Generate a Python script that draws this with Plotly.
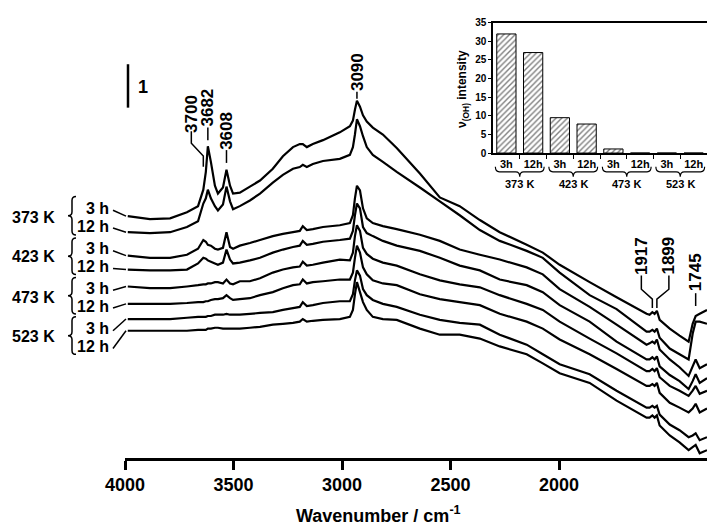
import plotly.graph_objects as go

# ---------------- data ----------------
wavenumber = [4000, 3912, 3832, 3765, 3721, 3700, 3690, 3682, 3670, 3654,
              3642, 3622, 3608, 3594, 3582, 3555, 3515, 3475, 3424, 3384,
              3344, 3317, 3305, 3289, 3265, 3225, 3158, 3118, 3106, 3098,
              3090, 3078, 3066, 3051, 3027, 2987, 2932, 2840, 2761, 2682,
              2602, 2523, 2416, 2352, 2285, 2166, 2059, 1940, 1928, 1917,
              1908, 1899, 1888, 1848, 1809, 1773, 1757, 1745, 1729, 1700]

abs_373K_3h = [5.57, 5.50, 5.52, 5.66, 5.80, 6.18, 6.59, 7.18, 6.82, 6.27,
               6.09, 6.23, 6.64, 6.27, 6.09, 6.11, 6.25, 6.39, 6.66, 6.95,
               7.16, 7.23, 7.23, 7.16, 7.23, 7.32, 7.50, 7.64, 7.77, 8.02,
               8.23, 8.09, 7.89, 7.75, 7.61, 7.45, 7.14, 6.55, 6.00, 5.80,
               5.48, 5.20, 4.91, 4.73, 4.45, 4.05, 3.70, 3.32, 3.30, 3.36,
               3.32, 3.39, 3.18, 2.98, 2.82, 2.68, 3.09, 3.27, 3.32, 3.41]
abs_373K_12h = [5.20, 5.18, 5.20, 5.32, 5.45, 5.86, 5.98, 6.18, 5.98, 5.80,
                5.70, 5.84, 6.25, 5.91, 5.73, 5.80, 5.93, 6.09, 6.34, 6.52,
                6.66, 6.70, 6.75, 6.70, 6.77, 6.84, 6.89, 6.98, 7.16, 7.45,
                7.80, 7.64, 7.41, 7.16, 6.98, 6.82, 6.59, 6.23, 5.91, 5.59,
                5.25, 5.00, 4.77, 4.61, 4.27, 3.75, 3.43, 2.91, 2.91, 2.95,
                2.91, 2.98, 2.77, 2.52, 2.39, 2.27, 2.86, 3.14, 3.14, 3.09]
abs_423K_3h = [4.66, 4.61, 4.61, 4.68, 4.82, 5.02, 4.98, 4.91, 4.89, 4.82,
               4.80, 4.84, 5.20, 4.86, 4.82, 4.89, 4.95, 5.02, 5.11, 5.16,
               5.20, 5.23, 5.34, 5.25, 5.27, 5.32, 5.36, 5.41, 5.59, 5.98,
               6.27, 6.16, 5.75, 5.52, 5.41, 5.34, 5.27, 5.14, 5.00, 4.80,
               4.68, 4.57, 4.39, 4.23, 3.89, 3.48, 3.07, 2.61, 2.64, 2.68,
               2.64, 2.73, 2.50, 2.27, 2.09, 1.89, 2.11, 2.27, 2.07, 2.16]
abs_423K_12h = [4.34, 4.32, 4.32, 4.34, 4.48, 4.61, 4.59, 4.55, 4.52, 4.48,
                4.45, 4.50, 4.80, 4.57, 4.48, 4.50, 4.55, 4.61, 4.73, 4.80,
                4.86, 4.89, 5.00, 4.91, 4.93, 4.98, 5.02, 5.05, 5.23, 5.59,
                5.86, 5.75, 5.32, 5.18, 5.11, 5.00, 4.89, 4.77, 4.61, 4.43,
                4.32, 4.11, 3.98, 3.82, 3.52, 3.14, 2.68, 2.27, 2.27, 2.32,
                2.27, 2.34, 2.11, 1.91, 1.77, 1.59, 1.77, 1.93, 1.73, 1.84]
abs_473K_3h = [3.95, 3.91, 3.91, 3.95, 3.98, 4.00, 4.00, 4.02, 4.02, 4.05,
               4.05, 4.02, 4.11, 4.02, 4.00, 4.07, 4.07, 4.14, 4.27, 4.34,
               4.39, 4.41, 4.52, 4.43, 4.45, 4.50, 4.57, 4.55, 4.73, 5.11,
               5.36, 5.23, 4.84, 4.70, 4.59, 4.50, 4.43, 4.23, 4.09, 4.00,
               3.93, 3.75, 3.55, 3.41, 3.14, 2.75, 2.41, 2.00, 2.00, 2.05,
               2.00, 2.07, 1.86, 1.66, 1.55, 1.43, 1.55, 1.66, 1.48, 1.55]
abs_473K_12h = [3.55, 3.55, 3.55, 3.57, 3.59, 3.59, 3.61, 3.61, 3.64, 3.66,
                3.66, 3.68, 3.75, 3.68, 3.64, 3.66, 3.68, 3.75, 3.82, 3.91,
                3.98, 4.00, 4.11, 4.02, 4.05, 4.07, 4.11, 4.11, 4.27, 4.61,
                4.89, 4.73, 4.39, 4.23, 4.09, 4.02, 3.98, 3.77, 3.66, 3.59,
                3.52, 3.32, 3.14, 2.98, 2.73, 2.39, 2.05, 1.66, 1.66, 1.70,
                1.66, 1.73, 1.50, 1.27, 1.16, 1.05, 1.14, 1.25, 1.05, 1.14]
abs_523K_3h = [3.20, 3.20, 3.20, 3.23, 3.25, 3.25, 3.25, 3.27, 3.27, 3.30,
               3.30, 3.30, 3.32, 3.30, 3.30, 3.30, 3.32, 3.34, 3.36, 3.41,
               3.45, 3.48, 3.59, 3.50, 3.52, 3.57, 3.61, 3.61, 3.77, 4.09,
               4.32, 4.20, 3.89, 3.75, 3.64, 3.55, 3.48, 3.30, 3.18, 3.11,
               3.07, 2.84, 2.61, 2.39, 2.16, 1.93, 1.55, 1.16, 1.16, 1.20,
               1.16, 1.20, 1.00, 0.77, 0.64, 0.48, 0.52, 0.57, 0.41, 0.48]
abs_523K_12h = [2.93, 2.93, 2.93, 2.93, 2.95, 2.95, 2.95, 2.98, 2.98, 3.00,
                3.00, 2.98, 2.98, 2.98, 2.98, 2.98, 3.00, 3.02, 3.07, 3.09,
                3.11, 3.14, 3.20, 3.14, 3.16, 3.18, 3.20, 3.25, 3.41, 3.77,
                4.05, 3.82, 3.59, 3.41, 3.25, 3.20, 3.18, 2.98, 2.84, 2.84,
                2.75, 2.57, 2.39, 2.18, 1.95, 1.73, 1.32, 0.93, 0.93, 0.98,
                0.93, 0.98, 0.75, 0.52, 0.36, 0.18, 0.25, 0.30, 0.11, 0.18]

temperatures = ["373 K", "423 K", "473 K", "523 K"]
times = ["3 h", "12 h"]
spectra = [abs_373K_3h, abs_373K_12h, abs_423K_3h, abs_423K_12h,
           abs_473K_3h, abs_473K_12h, abs_523K_3h, abs_523K_12h]

inset_times = ["3h", "12h", "3h", "12h", "3h", "12h", "3h", "12h"]
oh_intensity = [32, 27, 9.5, 7.8, 1.1, 0, 0, 0]

axis_tick_labels = [4000, 3500, 3000, 2500, 2000]
peak_labels = [3700, 3682, 3608, 3090, 1917, 1899, 1745]
scale_bar_abs = 1

# ---------------- geometry / style ----------------
W, H = 707, 525
PL, PR, PB = 125, 707, 458          # main plot area in px
PX_PER_ABS = 44
X_DATA_RANGE = [4011, 1700]
X_TICK_RANGE = [4000, 1318]
FONT = "Liberation Sans, Arial, sans-serif"


def bold(size):
    return dict(family=FONT, size=size, color="black", weight="bold")


def fx(px):
    return (px - PL) / (PR - PL)


def fy(py):
    return (PB - py) / PB


def P(px, py):
    return f"{fx(px):.5f},{fy(py):.5f}"


def wn2px(w):
    return PL + (w - X_DATA_RANGE[0]) * (PR - PL) / (X_DATA_RANGE[1] - X_DATA_RANGE[0])


fig = go.Figure()
labels = [(t, h) for t in temperatures for h in times]
for (t, h), vals in zip(labels, spectra):
    fig.add_trace(go.Scatter(
        x=wavenumber, y=vals, mode="lines", name=f"{t} {h}",
        line=dict(color="black", width=2.2, simplify=False),
        xaxis="x", yaxis="y", showlegend=False, hoverinfo="skip"))

# empty trace so that the labelled wavenumber axis is drawn
fig.add_trace(go.Scatter(x=[], y=[], xaxis="x2", yaxis="y", mode="lines",
                         showlegend=False, hoverinfo="skip"))

fig.add_trace(go.Bar(
    x=list(range(len(oh_intensity))), y=oh_intensity, width=0.72,
    xaxis="x3", yaxis="y2", showlegend=False,
    marker=dict(color="white", line=dict(color="black", width=1),
                pattern=dict(shape="/", fgcolor="black", bgcolor="white",
                             size=4, solidity=0.35))))

IX0, IX1, IY0, IY1 = 493, 707, 17, 149

fig.update_layout(
    width=W, height=H,
    margin=dict(l=PL, r=W - PR, t=0, b=H - PB, pad=0),
    paper_bgcolor="white", plot_bgcolor="rgba(0,0,0,0)", showlegend=False,
    xaxis=dict(visible=False, range=X_DATA_RANGE, domain=[0, 1]),
    xaxis2=dict(overlaying="x", anchor="y", side="bottom", range=X_TICK_RANGE,
                tickmode="array", tickvals=axis_tick_labels,
                ticks="outside", ticklen=9, tickwidth=2.5, tickcolor="black",
                showline=True, linewidth=2.5, linecolor="black",
                showgrid=False, zeroline=False, tickfont=bold(18)),
    yaxis=dict(visible=False, range=[0, PB / PX_PER_ABS], domain=[0, 1]),
    xaxis3=dict(domain=[fx(IX0), fx(IX1)], anchor="y2", range=[-0.5, 7.5],
                tickmode="array", tickvals=list(range(8)), ticktext=inset_times,
                ticks="", showline=True, mirror=True, linewidth=1.5,
                linecolor="black", showgrid=False, zeroline=False,
                tickfont=bold(11),
                minor=dict(ticks="outside", tickmode="array",
                           tickvals=[i + 0.5 for i in range(7)],
                           ticklen=4, tickcolor="black", showgrid=False)),
    yaxis2=dict(domain=[fy(IY1), fy(IY0)], anchor="x3", range=[0, 35],
                tickmode="linear", tick0=0, dtick=5, ticks="outside",
                ticklen=3, tickcolor="black", showline=True, linewidth=1.5,
                linecolor="black", showgrid=False, zeroline=False,
                tickfont=bold(10)),
)

shapes = []
annotations = []

# scale bar (1 absorbance unit)
shapes.append(dict(type="line", xref="paper", yref="y", x0=fx(128), x1=fx(128),
                   y0=(PB - 103) / PX_PER_ABS,
                   y1=(PB - 103) / PX_PER_ABS + scale_bar_abs,
                   line=dict(color="black", width=2.5)))
annotations.append(dict(text=str(scale_bar_abs), x=fx(143), y=fy(82),
                        xref="paper", yref="paper", showarrow=False,
                        font=bold(18), xanchor="center", yanchor="middle"))

# peak labels with leaders: (text dx, text centre y, leader points)
peak_style = {
    3700: (-12, 109, [(-12, 127), (-12, 139), (0, 152), (0, 163)]),
    3682: (0, 103, [(0, 123), (0, 136)]),
    3608: (0, 126, [(0, 146), (0, 159)]),
    3090: (0, 67, [(0, 87), (0, 94)]),
    1917: (-11, 253, [(-11, 273), (-11, 287), (0, 297), (0, 306)]),
    1899: (12, 253, [(12, 273), (12, 287), (0, 297), (0, 306)]),
    1745: (0, 270, [(0, 291), (0, 304)]),
}
for pk in peak_labels:
    dx, ty, pts = peak_style[pk]
    px = wn2px(pk)
    annotations.append(dict(text=str(pk), x=fx(px + dx), y=fy(ty),
                            xref="paper", yref="paper", showarrow=False,
                            textangle=-90, font=bold(17),
                            xanchor="center", yanchor="middle"))
    path = "M " + " L ".join(P(px + a, b) for a, b in pts)
    shapes.append(dict(type="path", xref="paper", yref="paper", path=path,
                       line=dict(color="black", width=1.5)))

# left labels, braces and leaders
temp_y = [214, 254, 295, 335]
time_y = [[205, 223], [246, 264], [286, 304], [327, 345]]
brace_y = [(193, 232), (235, 272), (275, 312), (315, 353)]
for i, t in enumerate(temperatures):
    annotations.append(dict(text=t, x=fx(33), y=fy(temp_y[i]), xref="paper",
                            yref="paper", showarrow=False, font=bold(16),
                            xanchor="center", yanchor="middle"))
    y1, y2 = brace_y[i]
    ym = (y1 + y2) / 2
    xm, w = 72, 4
    path = (f"M {P(xm + w, y1)} Q {P(xm, y1)} {P(xm, y1 + w)} L {P(xm, ym - w)} "
            f"Q {P(xm, ym)} {P(xm - w, ym)} Q {P(xm, ym)} {P(xm, ym + w)} "
            f"L {P(xm, y2 - w)} Q {P(xm, y2)} {P(xm + w, y2)}")
    shapes.append(dict(type="path", xref="paper", yref="paper", path=path,
                       line=dict(color="black", width=1.5)))
    for j, h in enumerate(times):
        ly = time_y[i][j]
        annotations.append(dict(text=h, x=fx(111), y=fy(ly), xref="paper",
                                yref="paper", showarrow=False, font=bold(16),
                                xanchor="right", yanchor="middle"))
        start_py = PB - spectra[2 * i + j][0] * PX_PER_ABS
        shapes.append(dict(type="line", xref="paper", yref="paper",
                           x0=fx(113), y0=fy(ly + 2), x1=fx(126), y1=fy(start_py),
                           line=dict(color="black", width=1.5)))

# axis title
annotations.append(dict(text="Wavenumber / cm<sup>-1</sup>", x=fx(378), y=fy(515),
                        xref="paper", yref="paper", showarrow=False,
                        font=bold(18), xanchor="center", yanchor="middle"))

# inset annotations
annotations.append(dict(text="ν<sub>(OH)</sub> intensity", x=fx(463), y=fy(84),
                        xref="paper", yref="paper", showarrow=False,
                        textangle=-90, font=bold(12),
                        xanchor="center", yanchor="middle"))
cat_w = (IX1 - IX0) / len(oh_intensity)
for k, t in enumerate(temperatures):
    x1 = IX0 + cat_w * (2 * k + 0.5) - 11
    x2 = IX0 + cat_w * (2 * k + 1.5) + 11
    xc = (x1 + x2) / 2
    yt, ym, yb = 163, 168, 173
    path = (f"M {P(x1, yt)} Q {P(x1, ym)} {P(x1 + 4, ym)} L {P(xc - 4, ym)} "
            f"Q {P(xc, ym)} {P(xc, yb)} Q {P(xc, ym)} {P(xc + 4, ym)} "
            f"L {P(x2 - 4, ym)} Q {P(x2, ym)} {P(x2, yt)}")
    shapes.append(dict(type="path", xref="paper", yref="paper", path=path,
                       line=dict(color="black", width=1.2)))
    annotations.append(dict(text=t, x=fx(xc), y=fy(180), xref="paper",
                            yref="paper", showarrow=False, font=bold(11),
                            xanchor="center", yanchor="middle"))

fig.update_layout(shapes=shapes, annotations=annotations)
fig.write_html("out.html")
